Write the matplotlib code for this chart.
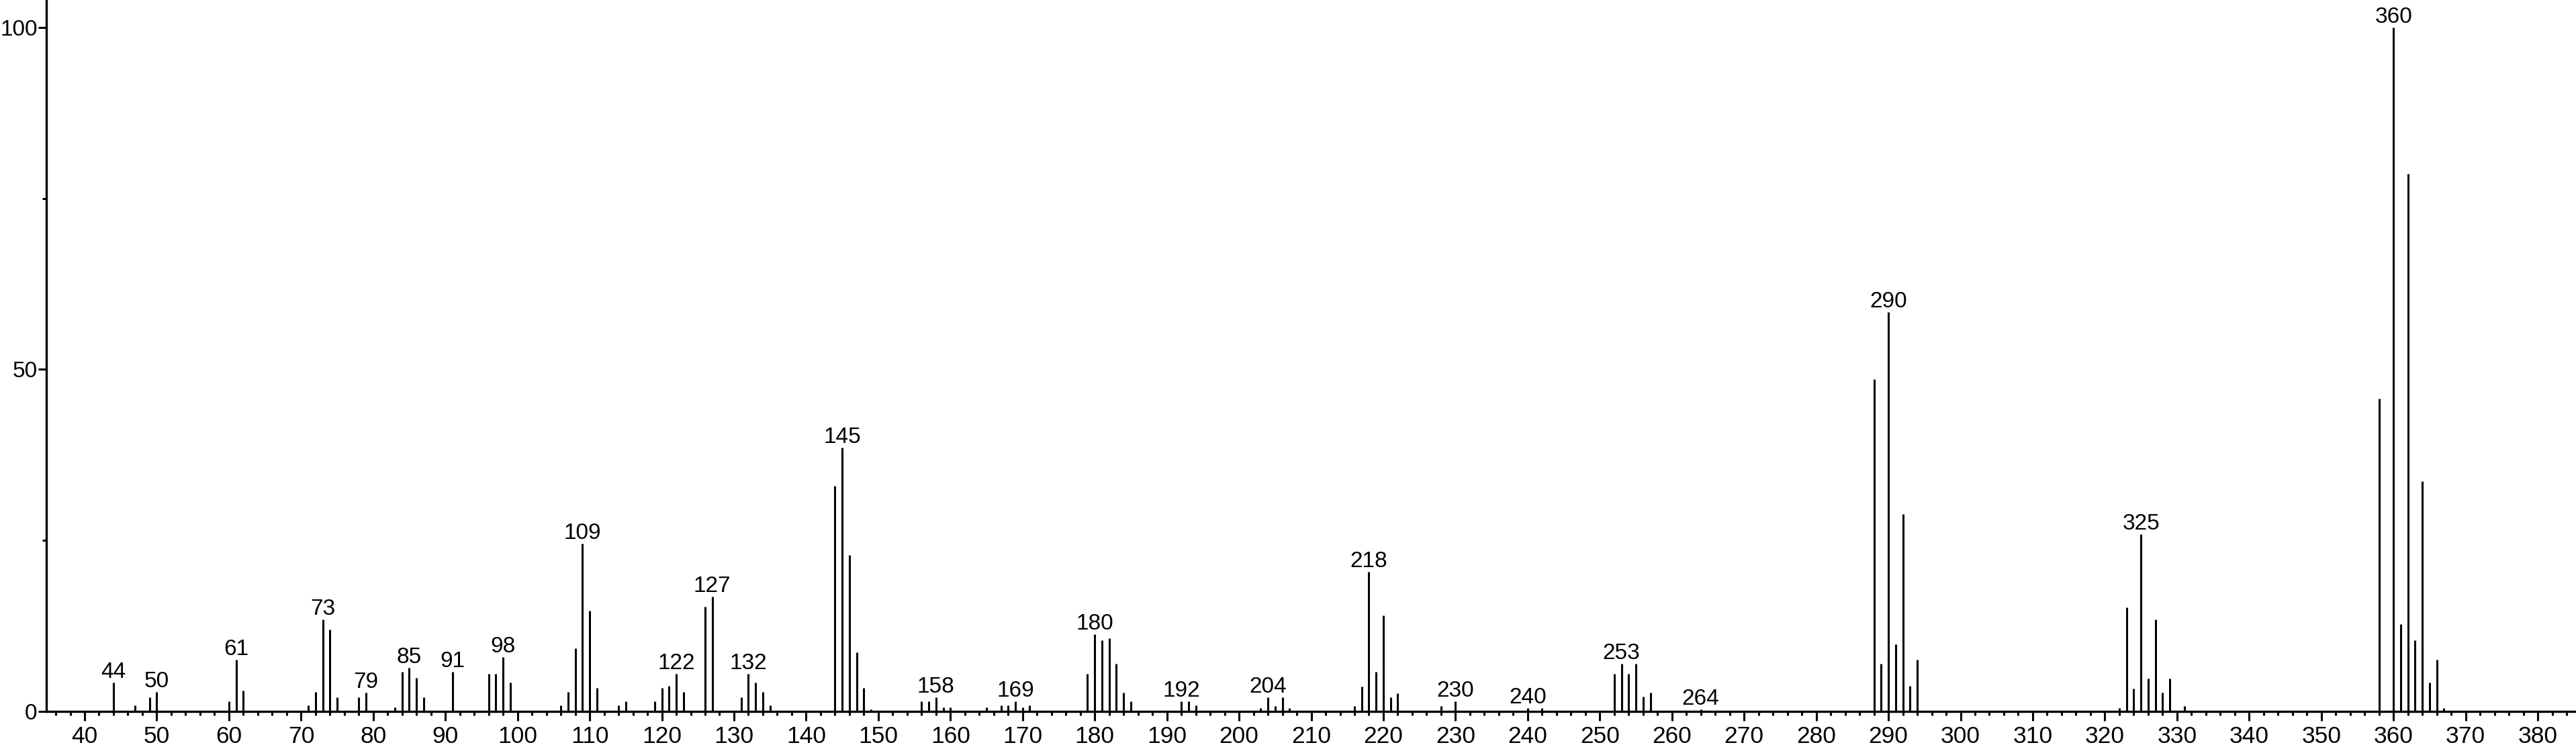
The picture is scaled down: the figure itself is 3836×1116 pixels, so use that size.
import matplotlib
matplotlib.use('Agg')
import matplotlib.pyplot as plt
from matplotlib.ticker import MultipleLocator

# peak positions (m/z) and relative intensities
mz = [44, 47, 49, 50, 60, 61, 62, 71, 72, 73, 74, 75, 78, 79, 83, 84, 85, 86, 87,
      91, 96, 97, 98, 99, 106, 107, 108, 109, 110, 111, 114, 115, 119, 120, 121,
      122, 123, 126, 127, 131, 132, 133, 134, 135, 144, 145, 146, 147, 148, 149,
      156, 157, 158, 159, 160, 165, 167, 168, 169, 170, 171, 179, 180, 181, 182,
      183, 184, 185, 192, 193, 194, 203, 204, 205, 206, 207, 216, 217, 218, 219,
      220, 221, 222, 228, 230, 240, 242, 252, 253, 254, 255, 256, 257, 264, 288,
      289, 290, 291, 292, 293, 294, 322, 323, 324, 325, 326, 327, 328, 329, 331,
      358, 360, 361, 362, 363, 364, 365, 366, 367]
intensity = [4.25, 0.9, 2.1, 2.8, 1.5, 7.6, 3.0, 0.9, 2.8, 13.4, 12.0, 2.1, 2.1, 2.7,
             0.6, 5.8, 6.4, 4.9, 2.1, 5.8, 5.5, 5.5, 7.9, 4.25, 0.9, 2.8, 9.2, 24.5,
             14.7, 3.4, 0.9, 1.5, 1.5, 3.4, 3.7, 5.5, 2.8, 15.3, 16.8, 2.1, 5.5, 4.25,
             2.8, 0.9, 33.0, 38.6, 22.9, 8.6, 3.4, 0.3, 1.5, 1.5, 2.1, 0.6, 0.6, 0.6,
             0.85, 0.85, 1.5, 0.6, 0.85, 5.5, 11.3, 10.4, 10.7, 7.0, 2.7, 1.5, 1.5,
             1.5, 0.85, 0.5, 2.1, 0.8, 2.1, 0.5, 0.8, 3.6, 20.4, 5.75, 14.0, 2.1, 2.6,
             0.8, 1.5, 0.5, 0.5, 5.5, 7.0, 5.5, 7.0, 2.2, 2.7, 0.3, 48.6, 7.0, 58.4,
             9.8, 28.8, 3.7, 7.6, 0.5, 15.2, 3.3, 25.9, 4.8, 13.4, 2.7, 4.8, 0.8,
             45.7, 100.0, 12.8, 78.6, 10.4, 33.7, 4.2, 7.6, 0.5]

# peaks that carry an m/z label
labelled = [44, 50, 61, 73, 79, 85, 91, 98, 109, 122, 127, 132, 145, 158, 169,
            180, 192, 204, 218, 230, 240, 253, 264, 290, 325, 360]

plt.rcParams['font.family'] = ['Liberation Sans', 'DejaVu Sans']

fig = plt.figure(figsize=(38.36, 11.16), dpi=100)
ax = fig.add_axes([0.018, 0.0502, 0.982, 0.9498])

ax.vlines(mz, 0, intensity, colors='black', linewidth=2.2)

lookup = dict(zip(mz, intensity))
for m in labelled:
    ax.annotate(str(m), (m, lookup[m]), xytext=(0, 0), textcoords='offset points',
                ha='center', va='bottom', fontsize=24, clip_on=False)

ax.set_xlim(34.7, 385.3)
ax.set_ylim(0, 104)

ax.xaxis.set_major_locator(MultipleLocator(10))
ax.xaxis.set_minor_locator(MultipleLocator(2))
ax.set_yticks([0, 50, 100])
ax.yaxis.set_minor_locator(MultipleLocator(25))

ax.tick_params(axis='x', which='major', direction='out', length=10, width=2.2,
               labelsize=25.5, pad=5)
ax.tick_params(axis='x', which='minor', direction='out', length=4.5, width=2.2)
ax.tick_params(axis='y', which='major', direction='out', length=8.6, width=2.2,
               labelsize=24, pad=1)
ax.tick_params(axis='y', which='minor', direction='out', length=4.5, width=2.2)

for side in ['top', 'right']:
    ax.spines[side].set_visible(False)
for side in ['left', 'bottom']:
    ax.spines[side].set_linewidth(2.4)

fig.savefig('out.png', dpi=100)
